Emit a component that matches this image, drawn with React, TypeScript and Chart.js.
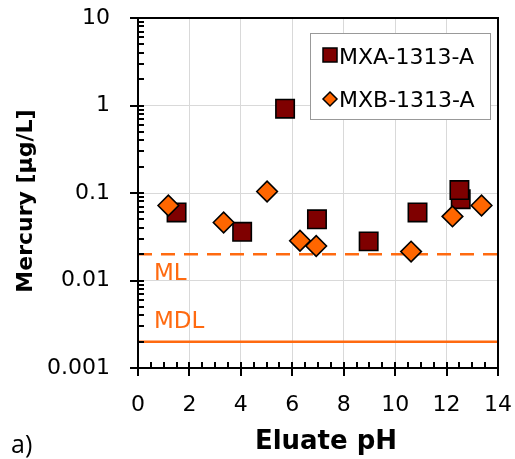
import React, { useEffect, useRef } from 'react';
import { Chart, registerables } from 'chart.js';

Chart.register(...registerables);

// ---- data ----
const seriesNames = ['MXA-1313-A', 'MXB-1313-A'];
const mxaPH = [1.5, 4.05, 5.72, 6.96, 8.97, 10.87, 12.55, 12.5];
const mxaHg = [0.06, 0.036, 0.92, 0.05, 0.028, 0.06, 0.085, 0.108];
const mxbPH = [1.18, 3.33, 5.02, 6.3, 6.93, 10.62, 12.23, 13.36];
const mxbHg = [0.072, 0.046, 0.104, 0.0285, 0.0248, 0.0214, 0.054, 0.072];
const limitNames = ['ML', 'MDL'];
const limitPH = [0, 14];
const mlHg = [0.02, 0.02];
const mdlHg = [0.002, 0.002];
const xTicks = [0, 2, 4, 6, 8, 10, 12, 14];
const yTicks = [0.001, 0.01, 0.1, 1, 10];
const xMinorStep = 0.5;
const yMinorFactors = [2, 3, 4, 5, 6, 7, 8, 9];
const xTitle = 'Eluate pH';
const yTitle = 'Mercury [µg/L]';
const panelLabel = 'a)';

const FONT = '"DejaVu Sans", sans-serif';
const MXA_COLOR = '#7F0000';
const MXB_COLOR = '#FF6600';
const LIMIT_COLOR = '#FF6A10';

const toPoints = (xs: number[], ys: number[]) => xs.map((x, i) => ({ x, y: ys[i] }));

const zeroPadding = (s: any) => {
  s.paddingTop = 0;
  s.paddingBottom = 0;
  s.paddingLeft = 0;
  s.paddingRight = 0;
};

const decor = {
  id: 'decor',
  afterDatasetsDraw(chart: any) {
    const { ctx, chartArea: a, scales } = chart;
    const xs = scales.x;
    const ys = scales.y;
    ctx.save();
    ctx.strokeStyle = '#000';
    ctx.lineWidth = 2;
    ctx.beginPath();
    for (let v = xTicks[0]; v <= xTicks[xTicks.length - 1] + 1e-9; v += xMinorStep) {
      const px = Math.round(xs.getPixelForValue(v));
      ctx.moveTo(px, a.bottom);
      ctx.lineTo(px, a.bottom - 6);
    }
    xTicks.forEach((v) => {
      const px = Math.round(xs.getPixelForValue(v));
      ctx.moveTo(px, a.bottom - 6);
      ctx.lineTo(px, a.bottom + 8);
    });
    yTicks.slice(0, -1).forEach((d) => {
      yMinorFactors.forEach((k) => {
        const py = Math.round(ys.getPixelForValue(k * d));
        ctx.moveTo(a.left, py);
        ctx.lineTo(a.left + 6, py);
      });
    });
    yTicks.forEach((v) => {
      const py = Math.round(ys.getPixelForValue(v));
      ctx.moveTo(a.left - 8, py);
      ctx.lineTo(a.left + 6, py);
    });
    ctx.stroke();
    ctx.lineWidth = 2;
    ctx.strokeRect(a.left, a.top, a.right - a.left, a.bottom - a.top);

    ctx.fillStyle = LIMIT_COLOR;
    ctx.font = `23px ${FONT}`;
    ctx.textAlign = 'left';
    ctx.textBaseline = 'alphabetic';
    ctx.fillText(limitNames[0], a.left + 16, ys.getPixelForValue(mlHg[0]) + 26);
    ctx.fillText(limitNames[1], a.left + 16, ys.getPixelForValue(mdlHg[0]) - 14);
    ctx.restore();
  },
  afterDraw(chart: any) {
    const { ctx, chartArea: a } = chart;
    ctx.save();
    const lx = a.right - 188;
    const ly = a.top + 15;
    ctx.fillStyle = '#fff';
    ctx.fillRect(lx, ly, 180, 86);
    ctx.strokeStyle = '#999';
    ctx.lineWidth = 1;
    ctx.strokeRect(lx + 0.5, ly + 0.5, 180, 86);
    ctx.fillStyle = MXA_COLOR;
    ctx.strokeStyle = '#000';
    ctx.lineWidth = 1.5;
    ctx.fillRect(lx + 13, ly + 15, 14, 14);
    ctx.strokeRect(lx + 13, ly + 15, 14, 14);
    const dx = lx + 20;
    const dy = ly + 66;
    ctx.beginPath();
    ctx.moveTo(dx, dy - 7);
    ctx.lineTo(dx + 7, dy);
    ctx.lineTo(dx, dy + 7);
    ctx.lineTo(dx - 7, dy);
    ctx.closePath();
    ctx.fillStyle = MXB_COLOR;
    ctx.fill();
    ctx.stroke();
    ctx.fillStyle = '#000';
    ctx.font = `22px ${FONT}`;
    ctx.textAlign = 'left';
    ctx.textBaseline = 'alphabetic';
    ctx.fillText(seriesNames[0], lx + 29, ly + 31);
    ctx.fillText(seriesNames[1], lx + 29, ly + 74);

    ctx.font = `bold 26px ${FONT}`;
    ctx.textAlign = 'center';
    ctx.fillText(xTitle, 326, 449);
    ctx.save();
    ctx.translate(26, 201);
    ctx.rotate(-Math.PI / 2);
    ctx.font = `bold 22px ${FONT}`;
    ctx.textBaseline = 'middle';
    ctx.fillText(yTitle, 0, 0);
    ctx.restore();

    ctx.font = '25px "Open Sans", sans-serif';
    ctx.textAlign = 'left';
    ctx.fillText(panelLabel, 11, 453);
    ctx.restore();
  },
};

export default function App() {
  const ref = useRef<HTMLCanvasElement>(null);
  useEffect(() => {
    document.body.style.margin = '0';
    const canvas = ref.current!;
    const chart = new Chart(canvas, {
      type: 'scatter',
      data: {
        datasets: [
          {
            label: seriesNames[1],
            data: toPoints(mxbPH, mxbHg),
            pointStyle: 'rectRot',
            pointRadius: 10.3,
            pointBackgroundColor: MXB_COLOR,
            pointBorderColor: '#000',
            pointBorderWidth: 1.6,
            backgroundColor: MXB_COLOR,
            borderColor: '#000',
            order: 0,
          },
          {
            label: seriesNames[0],
            data: toPoints(mxaPH, mxaHg),
            pointStyle: 'rect',
            pointRadius: 13,
            pointBackgroundColor: MXA_COLOR,
            pointBorderColor: '#000',
            pointBorderWidth: 1.6,
            backgroundColor: MXA_COLOR,
            borderColor: '#000',
            order: 1,
          },
          {
            type: 'line',
            label: limitNames[0],
            data: toPoints(limitPH, mlHg),
            borderColor: LIMIT_COLOR,
            borderWidth: 2.5,
            borderDash: [14, 9],
            pointRadius: 0,
            showLine: true,
            fill: false,
            order: 2,
          },
          {
            type: 'line',
            label: limitNames[1],
            data: toPoints(limitPH, mdlHg),
            borderColor: LIMIT_COLOR,
            borderWidth: 2.5,
            pointRadius: 0,
            showLine: true,
            fill: false,
            order: 2,
          },
        ] as any,
      },
      plugins: [decor],
      options: {
        animation: false,
        responsive: false,
        devicePixelRatio: 1,
        layout: { padding: { top: 18, right: 17, left: 0, bottom: 0 } },
        plugins: { legend: { display: false }, tooltip: { enabled: false } },
        scales: {
          x: {
            type: 'linear',
            min: 0,
            max: 14,
            afterFit: (s: any) => {
              s.height = 91;
              zeroPadding(s);
            },
            afterBuildTicks: (s: any) => {
              s.ticks = xTicks.map((v) => ({ value: v }));
            },
            ticks: {
              autoSkip: false,
              maxRotation: 0,
              color: '#000',
              padding: 24,
              font: { family: FONT, size: 22 },
              callback: (v: any) => String(v),
            },
            grid: { color: '#d9d9d9', lineWidth: 1, drawTicks: false },
            border: { display: false },
          },
          y: {
            type: 'logarithmic',
            min: 0.001,
            max: 10,
            afterFit: (s: any) => {
              s.width = 138;
              zeroPadding(s);
            },
            afterBuildTicks: (s: any) => {
              s.ticks = yTicks.map((v) => ({ value: v, major: true }));
            },
            ticks: {
              autoSkip: false,
              color: '#000',
              padding: 28,
              font: { family: FONT, size: 22 },
              callback: (v: any) => String(v),
            },
            grid: { color: '#d9d9d9', lineWidth: 1, drawTicks: false },
            border: { display: false },
          },
        },
      } as any,
    });
    return () => chart.destroy();
  }, []);
  return (
    <div style={{ width: 515, height: 459 }}>
      <canvas ref={ref} width={515} height={459} style={{ display: 'block' }} />
    </div>
  );
}
